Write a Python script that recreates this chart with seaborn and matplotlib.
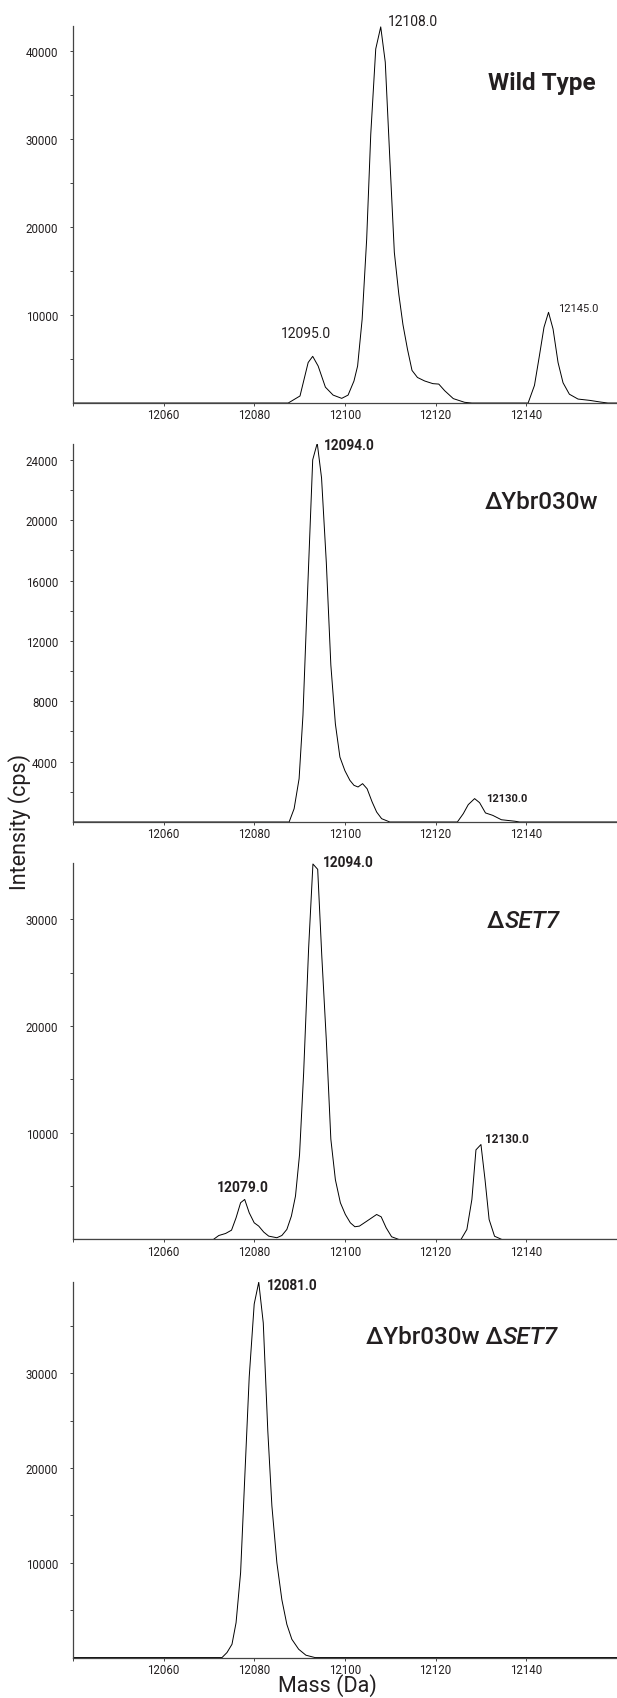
import pandas as pd
import numpy as np
import matplotlib.pyplot as plt
import seaborn as sns

# deconvoluted spectra, mass (Da) vs intensity (cps)
wt_mass = [12040, 12087.5, 12090.1, 12091.9, 12092.9, 12094.1, 12095.7, 12097.4, 12099.3, 12100.7,
           12102.0, 12102.8, 12103.8, 12104.8, 12105.7, 12106.8, 12107.9, 12108.9, 12109.9, 12110.9,
           12111.9, 12112.8, 12113.8, 12114.8, 12116.0, 12117.6, 12119.4, 12120.7, 12122.0, 12123.9,
           12126.4, 12128, 12140.4, 12141.8, 12142.9, 12143.9, 12144.9, 12145.9, 12147.0, 12148.1,
           12149.5, 12151.4, 12154.0, 12156.5, 12158, 12160]
wt_int = [0, 0, 800, 4600, 5300, 4200, 1800, 900, 530, 900,
          2500, 4200, 9500, 18600, 30500, 40200, 42700, 38700, 27800, 17100,
          12300, 8900, 6100, 3700, 2900, 2500, 2200, 2150, 1400, 500,
          80, 0, 0, 2000, 5400, 8600, 10300, 8400, 4600, 2300,
          1000, 450, 300, 100, 0, 0]

ybr_mass = [12040, 12087.7, 12088.8, 12089.9, 12090.75, 12091.8, 12092.9, 12093.9, 12094.85, 12095.9,
            12096.9, 12097.9, 12098.9, 12100.0, 12101.1, 12102.0, 12102.9, 12103.9, 12104.9, 12106.0,
            12107.0, 12108.1, 12109.9, 12124.8, 12126.1, 12127.2, 12128.6, 12129.7, 12131.0, 12132.6,
            12134.5, 12137.5, 12138.5, 12160]
ybr_int = [0, 0, 880, 2870, 7070, 15500, 24000, 25100, 22800, 17200,
           10400, 6500, 4300, 3400, 2760, 2430, 2320, 2540, 2200, 1330,
           660, 220, 0, 0, 550, 1150, 1550, 1280, 600, 440,
           150, 50, 0, 0]

set7_mass = [12040, 12071.0, 12072.2, 12073.7, 12075.0, 12076.0, 12077.0, 12077.9, 12078.9, 12080.0,
             12081.0, 12082.1, 12083.2, 12085.0, 12086.1, 12087.2, 12088.2, 12089.1, 12090.0, 12090.9,
             12092.0, 12092.95, 12094.0, 12094.9, 12095.9, 12096.9, 12097.9, 12099.0, 12100.1, 12101.2,
             12102.2, 12103.2, 12104.85, 12107.0, 12108.0, 12109.1, 12110.3, 12111.9, 12125.6, 12126.9,
             12128.0, 12128.9, 12130.0, 12130.9, 12131.8, 12133.0, 12134.6, 12160]
set7_int = [0, 0, 370, 560, 870, 2030, 3440, 3750, 2500, 1560,
            1250, 690, 310, 160, 370, 940, 2190, 4060, 7970, 15600,
            27300, 35200, 34700, 26600, 18700, 9400, 5600, 3440, 2340, 1560,
            1190, 1250, 1720, 2340, 2120, 1090, 250, 0, 0, 940,
            3750, 8400, 8900, 5600, 1870, 300, 0, 0]

dko_mass = [12040, 12072.9, 12074.0, 12075.1, 12076.0, 12077.0, 12077.9, 12078.9, 12080.0, 12081.0,
            12082.0, 12083.0, 12083.9, 12085.0, 12086.1, 12087.2, 12088.3, 12089.8, 12091.4, 12093.4, 12160]
dko_int = [0, 0, 530, 1400, 3680, 8950, 18800, 29600, 37300, 39600,
           35300, 23900, 16000, 10000, 6100, 3500, 1930, 880, 250, 0, 0]

x_ticks = [12040, 12060, 12080, 12100, 12120, 12140]
x_ticklabels = ['', '12060', '12080', '12100', '12120', '12140']

sns.set_style('ticks')
plt.rcParams['font.family'] = ['Roboto', 'DejaVu Sans']
ink = '#231f20'

fig = plt.figure(figsize=(6.17, 16.99), dpi=100)

# one entry per panel: data, axes box, y range, ticks, peak labels, strain label
panels = [
    dict(mass=wt_mass, inten=wt_int, box=(0.118, 0.7622, 0.882, 0.2219), ymax=42800,
         major=[10000, 20000, 30000, 40000], minor=[5000, 15000, 25000, 35000],
         peaks=[('12108.0', 12109.4, 43400, 10, 'normal'), ('12095.0', 12085.9, 7900, 10, 'normal'),
                ('12145.0', 12146.9, 10760, 8, 'normal')],
         name=('Wild Type', None, 'bold'), name_pos=(0.763, 0.851)),
    dict(mass=ybr_mass, inten=ybr_int, box=(0.118, 0.5156, 0.882, 0.2225), ymax=25050,
         major=[4000, 8000, 12000, 16000, 20000, 24000], minor=[2000, 6000, 10000, 14000, 18000, 22000],
         peaks=[('12094.0', 12095.3, 25000, 9.8, 'bold'), ('12130.0', 12131.2, 1590, 8, 'bold')],
         name=('ΔYbr030w', None, 'medium'), name_pos=(0.756, 0.847)),
    dict(mass=set7_mass, inten=set7_int, box=(0.118, 0.2699, 0.882, 0.2216), ymax=35300,
         major=[10000, 20000, 30000], minor=[5000, 15000, 25000],
         peaks=[('12094.0', 12095.1, 35400, 9.8, 'bold'), ('12079.0', 12071.8, 4920, 10, 'bold'),
                ('12130.0', 12130.8, 9510, 8.5, 'bold')],
         name=('Δ', 'SET7', 'medium'), name_pos=(0.761, 0.846)),
    dict(mass=dko_mass, inten=dko_int, box=(0.118, 0.0238, 0.882, 0.2212), ymax=39650,
         major=[10000, 20000, 30000], minor=[5000, 15000, 25000, 35000],
         peaks=[('12081.0', 12082.8, 39300, 9.8, 'bold')],
         name=('ΔYbr030w Δ', 'SET7', 'medium'), name_pos=(0.539, 0.853)),
]

for p in panels:
    ax = fig.add_axes(p['box'])
    df = pd.DataFrame({'mass': p['mass'], 'intensity': p['inten']})
    sns.lineplot(data=df, x='mass', y='intensity', ax=ax, color='black', linewidth=0.7,
                 estimator=None, sort=True)
    ax.set_xlim(12040, 12160)
    ax.set_ylim(0, p['ymax'])
    ax.set_xlabel('')
    ax.set_ylabel('')
    ax.set_xticks(x_ticks)
    ax.set_xticklabels(x_ticklabels)
    ax.set_yticks(p['major'])
    ax.set_yticklabels([str(v) for v in p['major']])
    ax.set_yticks(p['minor'], minor=True)
    ax.tick_params(axis='both', which='both', direction='out', length=2.2, width=0.7,
                   color='#444444', labelsize=8.3, labelcolor=ink)
    ax.tick_params(axis='y', which='major', pad=8.5)
    ax.tick_params(axis='x', which='major', pad=1.6)
    sns.despine(ax=ax)
    for s in ['left', 'bottom']:
        ax.spines[s].set_color('#444444')
        ax.spines[s].set_linewidth(0.9)

    for txt, x, y, size, weight in p['peaks']:
        ax.text(x, y, txt, fontsize=size, fontweight=weight, color=ink,
                ha='left', va='center', clip_on=False)

    upright, italic, weight = p['name']
    t = ax.text(p['name_pos'][0], p['name_pos'][1], upright, transform=ax.transAxes,
                fontsize=17.5, fontweight=weight, color=ink, ha='left', va='center')
    if italic:
        ax.annotate(italic, xy=(1, 0), xycoords=t, fontsize=17.5, fontweight=weight,
                    fontstyle='italic', color=ink, ha='left', va='bottom')

fig.text(19.5 / 617, 1 - 822 / 1699, 'Intensity (cps)', rotation=90, fontsize=15.5,
         color=ink, ha='center', va='center')
fig.text(327 / 617, 1 - 1692 / 1699, 'Mass (Da)', fontsize=15.5, color=ink,
         ha='center', va='baseline')

fig.savefig('out.png', dpi=100)
